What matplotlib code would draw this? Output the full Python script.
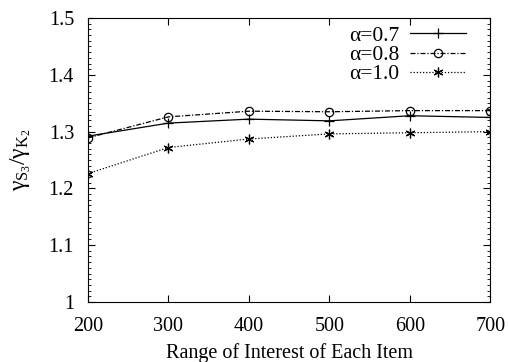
import matplotlib
matplotlib.use("Agg")
import matplotlib.pyplot as plt
import numpy as np
from matplotlib.ticker import MultipleLocator

plt.rcParams['font.family'] = ['Liberation Serif', 'DejaVu Serif']
plt.rcParams['mathtext.fontset'] = 'custom'
plt.rcParams['mathtext.rm'] = 'Liberation Serif'
plt.rcParams['mathtext.it'] = 'Liberation Serif'

x = [200, 300, 400, 500, 600, 700]
alpha_07 = [1.292, 1.315, 1.322, 1.319, 1.328, 1.325]
alpha_08 = [1.289, 1.326, 1.336, 1.335, 1.337, 1.337]
alpha_10 = [1.226, 1.272, 1.287, 1.296, 1.298, 1.300]

fig = plt.figure(figsize=(5.08, 3.62), dpi=100)
ax = fig.add_axes([0.173, 0.166, 0.792, 0.784])

ax.plot(x, alpha_07, color='black', lw=0.9, ls='-', marker='+', ms=7, mew=0.9,
        label='α=0.7')
ax.plot(x, alpha_08, color='black', lw=0.9, ls=(0, (4, 1.5, 1, 1.5)), marker='o', ms=6,
        mfc='none', mew=0.9, label='α=0.8')
ax.plot(x, alpha_10, color='black', lw=0.9, ls=(0, (1, 1.5)), marker=(6, 2, 0), ms=7,
        mew=0.9, label='α=1.0')

ax.set_xlim(200, 700)
ax.set_ylim(1.0, 1.5)
ax.set_xticks(x)
ax.set_yticks([1.0, 1.1, 1.2, 1.3, 1.4, 1.5])
ax.set_yticklabels(['1', '1.1', '1.2', '1.3', '1.4', '1.5'])
ax.yaxis.set_minor_locator(MultipleLocator(0.01))
ax.tick_params(which='both', direction='in', top=True, right=True, labelsize=14.5)
ax.tick_params(axis='x', pad=11)
ax.tick_params(axis='y', pad=10)
ax.tick_params(which='major', length=5, width=0.8)
ax.tick_params(which='minor', length=2.5, width=0.6)

ax.set_xlabel('Range of Interest of Each Item', fontsize=14.5, labelpad=5)
ax.set_ylabel(r'$γ_{S_3}/γ_{K_2}$', fontsize=17, labelpad=11)

ax.legend(loc='upper right', frameon=False, markerfirst=False, fontsize=15.5,
          handlelength=2.6, handletextpad=0.5, labelspacing=-0.04,
          borderaxespad=0.0, bbox_to_anchor=(0.962, 1.003))

fig.savefig('out.png', dpi=100)
